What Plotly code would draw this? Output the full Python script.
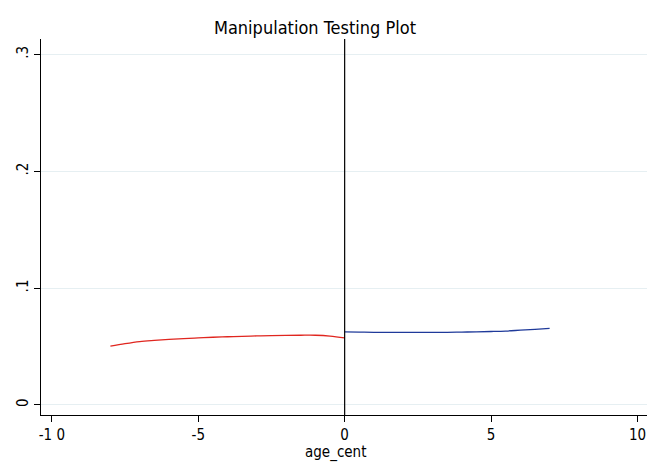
import plotly.graph_objects as go

red_x = [-8, -7.5, -7, -6.5, -6, -5.5, -5, -4.5, -4, -3.5, -3, -2.5, -2, -1.5, -1, -0.5, 0]
red_y = [0.0503, 0.0525, 0.0543, 0.0553, 0.0561, 0.0568, 0.0574, 0.0580, 0.0584, 0.0588,
         0.0591, 0.0594, 0.0596, 0.0597, 0.0597, 0.0590, 0.0574]
blue_x = [0, 0.5, 1, 1.5, 2, 2.5, 3, 3.5, 4, 4.5, 5, 5.5, 6, 6.5, 7]
blue_y = [0.0626, 0.0624, 0.0622, 0.0621, 0.0621, 0.0621, 0.0621, 0.0622, 0.0624, 0.0626,
          0.0629, 0.0633, 0.0640, 0.0647, 0.0655]
x_ticks = [-10, -5, 0, 5, 10]
x_ticklabels = ["-1 0", "-5", "0", "5", "10"]
y_ticks = [0, 0.1, 0.2, 0.3]
y_ticklabels = ["0", ".1", ".2", ".3"]
cutoff = 0

FONT = "DejaVu Sans Condensed, Liberation Sans, Arial, sans-serif"
OFF = 8  # page body margin
W, H = 655 - OFF, 462 - OFF
L, T, R, B = 41 - OFF, 39 - OFF, 7, 47
PW, PH = W - L - R, H - T - B

fig = go.Figure()
fig.add_trace(go.Scatter(x=red_x, y=red_y, mode="lines",
                         line=dict(color="#e0261f", width=1.3, shape="spline"), showlegend=False))
fig.add_trace(go.Scatter(x=blue_x, y=blue_y, mode="lines",
                         line=dict(color="#1f3a9a", width=1.3, shape="spline"), showlegend=False))
fig.add_shape(type="line", xref="x", yref="paper", x0=cutoff, x1=cutoff, y0=0, y1=1,
              line=dict(color="black", width=1.2))

fig.add_annotation(text="age_cent", xref="paper", yref="paper",
                   x=(335 - 41) / PW, y=-(453 - 415) / PH,
                   xanchor="center", yanchor="middle", showarrow=False,
                   font=dict(size=15, family=FONT, color="black"))

fig.update_layout(
    width=W, height=H,
    margin=dict(l=L, r=R, t=T, b=B),
    paper_bgcolor="white", plot_bgcolor="white",
    font=dict(family=FONT, color="black", size=15),
    title=dict(text="Manipulation Testing Plot", x=(315 - OFF) / W, xanchor="center",
               y=1 - (28 - OFF) / H, yanchor="middle",
               font=dict(size=18, family=FONT, color="black")),
)
fig.update_xaxes(range=[-10.37, 10.36], tickvals=x_ticks, ticktext=x_ticklabels,
                 showgrid=False, zeroline=False, showline=True, linecolor="black", linewidth=1.2,
                 ticks="outside", ticklen=6, tickcolor="black", tickwidth=1,
                 automargin=False, tickfont=dict(size=15, family=FONT))
fig.update_yaxes(range=[-0.0086, 0.3134], tickvals=y_ticks, ticktext=y_ticklabels,
                 showgrid=True, gridcolor="#e6eff2", gridwidth=1, zeroline=False,
                 showline=True, linecolor="black", linewidth=1.2,
                 ticks="outside", ticklen=6, tickcolor="black", tickwidth=1,
                 automargin=False, tickangle=-90, tickfont=dict(size=15, family=FONT))
fig.write_html("out.html")
